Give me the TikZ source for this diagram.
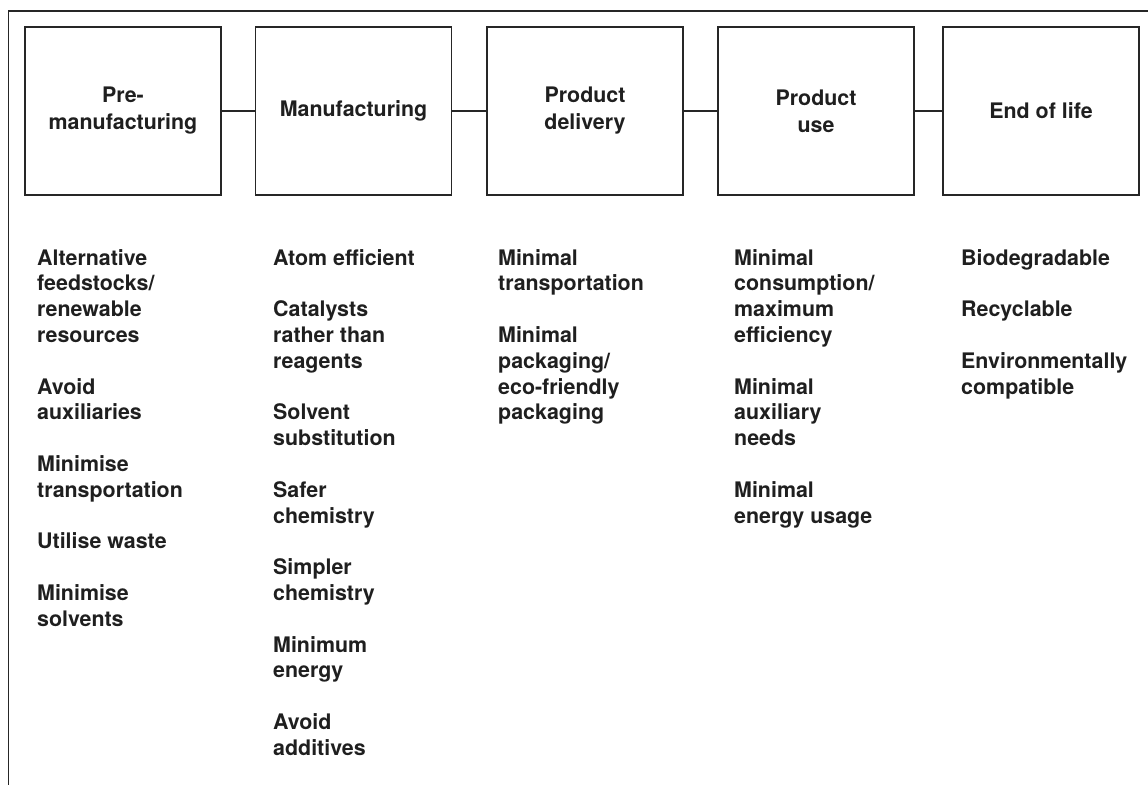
\documentclass[tikz,border=0pt]{standalone}
\usepackage{fontspec}
\setmainfont{TeX Gyre Heros}
\begin{document}
\begin{tikzpicture}[x=1pt,y=-1pt,
  stage/.style={draw=black!85, line width=1.5pt, minimum width=196pt, minimum height=168pt,
    inner sep=0pt, align=center, text=black!88, font=\fontsize{21.4}{27}\selectfont\bfseries},
  col/.style={anchor=north west, inner sep=0pt, align=left, text=black!88,
    font=\fontsize{21.4}{25.8}\selectfont\bfseries},
  link/.style={draw=black!85, line width=1.5pt}]
\useasboundingbox (0,0) rectangle (1148,785);
\coordinate (ftop) at (1148,11);
\coordinate (fcorner) at (8.5,11);
\coordinate (fbot) at (8.5,785);
\draw[link] (ftop) -- (fcorner) -- (fbot);
\node[stage] (b1) at (123,111) {Pre-\\manufacturing};
\node[stage] (b2) at (353.5,111) {Manufacturing};
\node[stage] (b3) at (585,111) {Product\\delivery};
\node[stage] (b4) at (816,111) {Product\\use};
\node[stage] (b5) at (1041,111) {End of life};
\draw[link] (b1.east) -- (b2.west);
\draw[link] (b2.east) -- (b3.west);
\draw[link] (b3.east) -- (b4.west);
\draw[link] (b4.east) -- (b5.west);
\node[col] (c1) at (37,249) {Alternative\\feedstocks/\\renewable\\resources\\[25.8pt]Avoid\\auxiliaries\\[25.8pt]Minimise\\transportation\\[25.8pt]Utilise waste\\[25.8pt]Minimise\\solvents};
\node[col] (c2) at (273,249) {Atom efficient\\[25.8pt]Catalysts\\rather than\\reagents\\[25.8pt]Solvent\\substitution\\[25.8pt]Safer\\chemistry\\[25.8pt]Simpler\\chemistry\\[25.8pt]Minimum\\energy\\[25.8pt]Avoid\\additives};
\node[col] (c3) at (498,249) {Minimal\\transportation\\[25.8pt]Minimal\\packaging/\\eco-friendly\\packaging};
\node[col] (c4) at (734,249) {Minimal\\consumption/\\maximum\\efficiency\\[25.8pt]Minimal\\auxiliary\\needs\\[25.8pt]Minimal\\energy usage};
\node[col] (c5) at (961,249) {Biodegradable\\[25.8pt]Recyclable\\[25.8pt]Environmentally\\compatible};
\end{tikzpicture}
\end{document}
